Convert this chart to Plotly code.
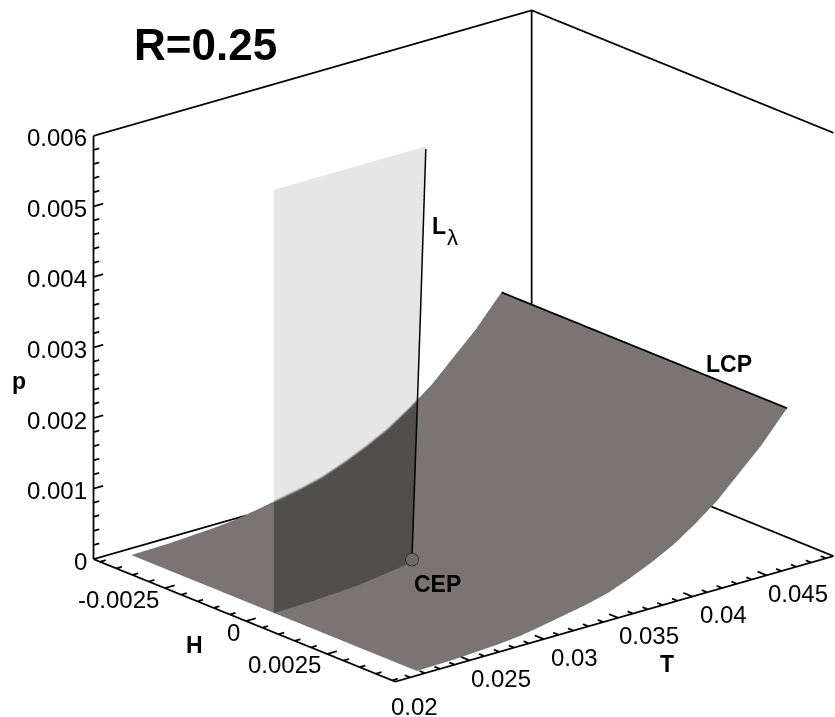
import numpy as np
import plotly.graph_objects as go

# ---------------- data ----------------
H_RANGE = [-0.0047, 0.0046]
T_RANGE = [0.02, 0.0495]
P_RANGE = [0.0, 0.006]

H_MAJOR = [-0.0025, 0.0, 0.0025]
H_LABELS = ["-0.0025", "0", "0.0025"]
H_MINOR_STEP = 0.0005
T_MAJOR = [0.02, 0.025, 0.03, 0.035, 0.04, 0.045]
T_LABELS = ["0.02", "0.025", "0.03", "0.035", "0.04", "0.045"]
T_MINOR_STEP = 0.001
P_MAJOR = [0.0, 0.001, 0.002, 0.003, 0.004, 0.005, 0.006]
P_LABELS = ["0", "0.001", "0.002", "0.003", "0.004", "0.005", "0.006"]
P_MINOR_STEP = 0.0002

# first-order surface p(T), same for every H
SURF_H = [-0.0044, 0.0044]
SURF_T = [0.02189, 0.02443, 0.0259, 0.02738, 0.02885, 0.03033, 0.0318, 0.03328,
          0.03475, 0.03623, 0.0377, 0.03918, 0.04065, 0.04213, 0.0436, 0.04508,
          0.04655, 0.04682]
SURF_P = [0.0, 0.000012, 0.00003, 0.000048, 0.000078, 0.000132, 0.000192, 0.000252,
          0.00033, 0.00045, 0.000588, 0.00075, 0.00096, 0.0012, 0.0015, 0.0018,
          0.00216, 0.00222]

# lambda sheet at H = 0
PLANE_H = 0.0
PLANE_T_LEFT = 0.02187
PLANE_P_TOP = 0.006
LAMBDA_BOTTOM_T = [0.02187, 0.02413, 0.02636, 0.0286, 0.03084, 0.03117]
LAMBDA_BOTTOM_P = [0.0, 0.0, 0.00002, 0.00008, 0.00015, 0.0002]
LAMBDA_LINE_T = [0.03117, 0.03173, 0.03211]
LAMBDA_LINE_P = [0.0002, 0.00356, 0.006]

CEP_H, CEP_T, CEP_P = [0.0], [0.03117], [0.0002]
LCP_H = [-0.0044, 0.0044]
LCP_T = [0.04682, 0.04682]
LCP_P = [0.00222, 0.00222]

# ---------------- view ----------------
W, Hpx = 835, 717
ASPECT = np.array([1.042, 1.271, 1.0]) * 1.261   # H, T, p (ortho zoom lives in aspectratio)
VIEW_DIR = np.array([0.7198, -0.6047, 0.3410])   # towards viewer
VIEW_DIR = VIEW_DIR / np.linalg.norm(VIEW_DIR)
EYE_DIST = 2.0
PX_PER_UNIT = 358.5
SHIFT_PX = np.array([46.0, 12.5])  # cube centre offset right / up

up = np.array([0, 0, 1.0])
scr_up = up - up.dot(VIEW_DIR) * VIEW_DIR
scr_up /= np.linalg.norm(scr_up)
scr_right = np.cross(scr_up, VIEW_DIR)
center = -(SHIFT_PX[0] * scr_right + SHIFT_PX[1] * scr_up) / PX_PER_UNIT
eye = center + EYE_DIST * VIEW_DIR

rng = np.array([H_RANGE[1] - H_RANGE[0], T_RANGE[1] - T_RANGE[0], P_RANGE[1] - P_RANGE[0]])
scale = ASPECT / rng  # scaled units per data unit
PAD = 0.002  # tiny padding so box edges are not clipped


def padded(r):
    w = r[1] - r[0]
    return [r[0] - PAD * w, r[1] + PAD * w]


def toward_viewer(h, t, p, eps=0.03):
    """Shift a point along the view ray (same projection, drawn in front)."""
    h = np.asarray(h, float) + eps * VIEW_DIR[0] / scale[0]
    t = np.asarray(t, float) + eps * VIEW_DIR[1] / scale[1]
    p = np.asarray(p, float) + eps * VIEW_DIR[2] / scale[2]
    return h, t, p


# ---------------- traces ----------------
fig = go.Figure()

flat = dict(ambient=1.0, diffuse=0.0, specular=0.0, roughness=1.0, fresnel=0.0)
SURF_COLOR = "#7a7574"
DARK = "#524e4d"
LIGHT = "#e6e6e6"

zs = np.array([[p, p] for p in SURF_P])
fig.add_trace(go.Surface(x=SURF_H, y=SURF_T, z=zs,
                         surfacecolor=np.zeros_like(zs),
                         colorscale=[[0, SURF_COLOR], [1, SURF_COLOR]],
                         showscale=False, lighting=flat, hoverinfo="skip"))

# lambda sheet grid
nu, nv = 60, 300
u = np.linspace(0, 1, nu)
v = np.linspace(0, 1, nv)
Tb = PLANE_T_LEFT + u * (LAMBDA_BOTTOM_T[-1] - PLANE_T_LEFT)
pb = np.interp(Tb, LAMBDA_BOTTOM_T, LAMBDA_BOTTOM_P)
PZ = pb[None, :] + v[:, None] * (PLANE_P_TOP - pb[None, :])
TR = np.interp(PZ, LAMBDA_LINE_P, LAMBDA_LINE_T)
TY = PLANE_T_LEFT + u[None, :] * (TR - PLANE_T_LEFT)
HX = np.full_like(PZ, PLANE_H)
# part of the sheet that has the surface behind it (along the view ray) is darker
s = (PLANE_H - SURF_H[0]) * scale[0] / VIEW_DIR[0]
dT = -s * VIEW_DIR[1] / scale[1]
dP = s * VIEW_DIR[2] / scale[2]
pbound = np.interp(TY + dT, SURF_T, SURF_P) + dP
col = PZ - pbound
fig.add_trace(go.Surface(x=HX, y=TY, z=PZ, surfacecolor=col, cmin=-0.006, cmax=0.006,
                         colorscale=[[0, DARK], [0.5, DARK], [0.5, LIGHT], [1, LIGHT]],
                         showscale=False, lighting=flat, hoverinfo="skip"))

# box edges (back walls)
h0, h1 = H_RANGE
t0, t1 = T_RANGE
p0, p1 = P_RANGE
edges = [
    ((h0, t0, p0), (h0, t1, p0)), ((h0, t0, p1), (h0, t1, p1)),
    ((h0, t0, p0), (h0, t0, p1)), ((h0, t1, p0), (h0, t1, p1)),
    ((h0, t1, p0), (h1, t1, p0)), ((h0, t1, p1), (h1, t1, p1)),
    ((h0, t0, p0), (h1, t0, p0)), ((h1, t0, p0), (h1, t1, p0)),
]


def tick_values(step, lo, hi):
    n0 = int(np.ceil(lo / step - 1e-9))
    n1 = int(np.floor(hi / step + 1e-9))
    return [round(n * step, 8) for n in range(n0, n1 + 1)]


def is_major(val, major, step):
    return any(abs(m - val) < step / 10 for m in major)


# tick segments: p ticks and H ticks point along +T, T ticks along -H
for val in tick_values(P_MINOR_STEP, p0, p1):
    ln = (0.022 if is_major(val, P_MAJOR, P_MINOR_STEP) else 0.013) * rng[1]
    edges.append(((h0, t0, val), (h0, t0 + ln, val)))
for val in tick_values(H_MINOR_STEP, h0, h1):
    ln = (0.022 if is_major(val, H_MAJOR, H_MINOR_STEP) else 0.013) * rng[1]
    edges.append(((val, t0, p0), (val, t0 + ln, p0)))
for val in tick_values(T_MINOR_STEP, t0, t1):
    ln = (0.03 if is_major(val, T_MAJOR, T_MINOR_STEP) else 0.018) * rng[0]
    edges.append(((h1, val, p0), (h1 - ln, val, p0)))

ex, ey, ez = [], [], []
for a, b in edges:
    ex += [a[0], b[0], None]
    ey += [a[1], b[1], None]
    ez += [a[2], b[2], None]
fig.add_trace(go.Scatter3d(x=ex, y=ey, z=ez, mode="lines", connectgaps=False,
                           line=dict(color="black", width=3.5), hoverinfo="skip"))

lx, ly, lz = toward_viewer([PLANE_H] * len(LAMBDA_LINE_T), LAMBDA_LINE_T, LAMBDA_LINE_P)
fig.add_trace(go.Scatter3d(x=lx, y=ly, z=lz, mode="lines",
                           line=dict(color="black", width=3), hoverinfo="skip"))
lx, ly, lz = toward_viewer(LCP_H, LCP_T, LCP_P)
fig.add_trace(go.Scatter3d(x=lx, y=ly, z=lz, mode="lines",
                           line=dict(color="black", width=3.5), hoverinfo="skip"))
cx, cy, cz = toward_viewer(CEP_H, CEP_T, CEP_P, eps=0.08)
fig.add_trace(go.Scatter3d(x=cx, y=cy, z=cz, mode="markers",
                           marker=dict(size=7.5, color="#6e6a69", line=dict(color="black", width=1)),
                           hoverinfo="skip"))

FONT = "Liberation Sans, Arial"
tickfont = dict(family=FONT, size=24, color="black")


def axis(rngv):
    return dict(range=padded(rngv), autorange=False, showbackground=False, showgrid=False,
                zeroline=False, showline=False, showspikes=False, ticks="",
                showticklabels=False, title=dict(text=""))


T_LABEL_NUDGE = {0.02: (-12, -7)}  # first T label sits lower-left, clear of the corner

scene_ann = []
for val, lab in zip(P_MAJOR, P_LABELS):
    scene_ann.append(dict(x=h0, y=t0, z=val, text=lab, showarrow=False, xanchor="right",
                          yanchor="middle", xshift=-5, yshift=-2, font=tickfont))
for val, lab in zip(H_MAJOR, H_LABELS):
    scene_ann.append(dict(x=val, y=t0, z=p0, text=lab, showarrow=False, xanchor="right",
                          yanchor="middle", xshift=-4, yshift=-11, font=tickfont))
for val, lab in zip(T_MAJOR, T_LABELS):
    nx, ny = T_LABEL_NUDGE.get(val, (0, 0))
    scene_ann.append(dict(x=h1, y=val, z=p0, text=lab, showarrow=False, xanchor="center",
                          yanchor="middle", xshift=31 + nx, yshift=-18 + ny, font=tickfont))

fig.update_layout(
    width=W, height=Hpx, margin=dict(l=0, r=0, t=0, b=0),
    paper_bgcolor="white", showlegend=False,
    scene=dict(
        domain=dict(x=[0, 1], y=[0, 1]),
        xaxis=axis(H_RANGE),
        yaxis=axis(T_RANGE),
        zaxis=axis(P_RANGE),
        aspectmode="manual",
        aspectratio=dict(x=ASPECT[0], y=ASPECT[1], z=ASPECT[2]),
        camera=dict(eye=dict(x=eye[0], y=eye[1], z=eye[2]),
                    center=dict(x=center[0], y=center[1], z=center[2]),
                    up=dict(x=0, y=0, z=1),
                    projection=dict(type="orthographic")),
        annotations=scene_ann,
    ),
)


def px(xp, yp):
    return xp / W, 1 - yp / Hpx


labels = [
    ("<b>R=0.25</b>", 205, 44, 44),
    ("<b>p</b>", 18.5, 381, 23),
    ("<b>H</b>", 194.5, 644.5, 23),
    ("<b>T</b>", 666.5, 664, 23),
    ("<b>CEP</b>", 437.5, 584, 23),
    ("<b>LCP</b>", 729, 363.5, 23),
    ("<b>L</b>", 439, 226, 23),
    ("λ", 452.5, 238, 22),
]
for txt, xp, yp, sz in labels:
    ax_, ay_ = px(xp, yp)
    fig.add_annotation(x=ax_, y=ay_, xref="paper", yref="paper", text=txt, showarrow=False,
                       xanchor="center", yanchor="middle",
                       font=dict(family=FONT, size=sz, color="black"))

fig.write_html("out.html")
